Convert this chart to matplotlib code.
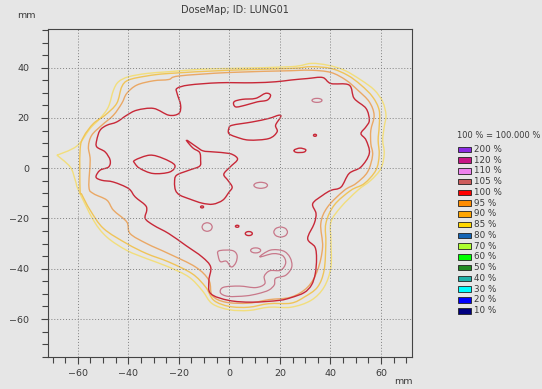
import matplotlib
matplotlib.use("Agg")
import matplotlib.pyplot as plt
import numpy as np
from matplotlib.patches import Rectangle, PathPatch
from matplotlib.path import Path

# isodose contours, (x, y) in mm
iso85 = [(-68.3, 5.2), (-60.4, 8.8), (-55.1, 15.8), (-51.2, 19.8), (-47.9, 24.4), (-45.9, 31.0),
         (-43.9, 34.4), (-39.9, 36.4), (-32.7, 37.7), (-24.0, 38.4), (-10.8, 39.4), (0.0, 39.7),
         (24.4, 40.4), (32.3, 41.7), (38.9, 41.0), (45.5, 39.0), (52.1, 35.1), (57.4, 31.1),
         (60.7, 26.4), (62.0, 21.1), (61.3, 16.5), (60.7, 11.2), (61.3, 5.9), (60.0, -0.1),
         (56.0, -4.8), (50.8, -8.8), (44.2, -15.4), (40.2, -21.4), (40.2, -28.7), (40.2, -39.3),
         (37.5, -47.3), (32.3, -52.6), (24.4, -55.3), (15.6, -55.3), (7.7, -56.6), (0.0, -56.3),
         (-6.8, -53.9), (-10.8, -48.6), (-16.0, -43.3), (-24.0, -39.3), (-32.7, -36.0),
         (-40.6, -32.7), (-48.5, -27.4), (-53.8, -20.7), (-59.7, -8.8), (-61.0, -4.8),
         (-63.0, 0.5)]

iso90 = [(-59.1, -8.8), (-59.1, 7.2), (-57.7, 12.5), (-53.8, 17.8), (-49.2, 21.1), (-44.6, 25.8),
         (-42.6, 32.4), (-39.9, 35.1), (-32.7, 36.7), (-24.0, 37.7), (0.0, 39.0), (24.4, 39.7),
         (32.3, 40.4), (40.2, 39.7), (46.8, 37.0), (52.1, 33.1), (56.7, 28.4), (59.3, 23.1),
         (59.3, 16.5), (58.9, 11.2), (59.3, 5.2), (58.0, -0.8), (53.4, -6.1), (48.1, -8.8),
         (41.5, -14.7), (38.2, -22.0), (38.2, -30.0), (37.5, -40.6), (34.9, -47.3), (29.6, -51.3),
         (24.4, -53.7), (15.6, -53.9), (7.7, -55.3), (0.0, -55.0), (-6.1, -52.6), (-9.4, -47.3),
         (-14.7, -42.0), (-24.0, -37.3), (-32.7, -34.0), (-40.6, -30.0), (-49.8, -24.0),
         (-55.1, -16.7), (-58.4, -10.5)]

iso95 = [(-55.6, -7.5), (-55.1, 3.2), (-55.8, 8.5), (-54.5, 13.1), (-50.5, 17.1), (-45.9, 21.1),
         (-42.6, 25.8), (-40.6, 29.8), (-36.6, 33.1), (-30.0, 34.8), (-24.0, 35.3), (-20.0, 36.7),
         (0.0, 38.1), (24.4, 38.8), (32.3, 39.0), (40.2, 38.1), (46.1, 35.1), (50.8, 31.1),
         (55.4, 26.4), (57.3, 21.1), (56.0, 15.1), (56.0, 9.8), (56.7, 5.2), (54.7, -1.5),
         (50.1, -6.1), (45.5, -8.8), (38.9, -15.4), (36.2, -22.0), (36.9, -31.4), (34.9, -40.6),
         (31.0, -47.3), (24.4, -51.3), (15.6, -52.3), (7.7, -53.7), (-1.5, -53.3), (-6.8, -50.6),
         (-8.1, -44.6), (-13.4, -39.3), (-24.0, -34.0), (-32.7, -30.0), (-39.3, -26.0),
         (-40.6, -21.4), (-45.9, -16.7), (-48.5, -12.7), (-53.8, -10.1)]

iso100_main = [(-24.0, 21.1), (-30.0, 23.8), (-36.6, 23.1), (-40.6, 21.1), (-44.6, 18.4),
               (-48.5, 17.1), (-51.2, 15.1), (-52.5, 11.2), (-52.5, 8.5), (-49.2, 6.5),
               (-47.2, 3.2), (-47.8, 0.5), (-51.2, -0.8), (-52.8, -3.5), (-50.5, -4.8),
               (-45.9, -5.5), (-39.9, -8.1), (-37.3, -11.4), (-33.3, -14.7), (-32.7, -16.7),
               (-33.3, -20.0), (-30.0, -22.7), (-24.0, -26.0), (-17.3, -30.7), (-10.8, -35.3),
               (-7.4, -39.3), (-8.1, -44.6), (-7.4, -49.9), (-0.2, -52.6), (9.0, -53.3),
               (19.6, -52.6), (24.4, -51.5), (29.6, -49.5), (32.5, -46.5), (34.0, -42.0),
               (34.5, -36.0), (33.9, -31.4), (31.0, -28.0), (33.6, -22.0), (34.3, -18.0),
               (33.0, -14.1), (36.9, -10.8), (40.2, -8.8), (44.2, -7.5), (47.4, -2.1),
               (52.1, 0.5), (55.4, 5.9), (54.1, 11.2), (52.1, 13.8), (54.1, 16.5), (55.4, 19.1),
               (54.1, 23.8), (49.4, 27.8), (47.4, 33.1), (40.2, 33.7), (36.9, 36.1), (31.0, 35.7),
               (24.4, 35.1), (18.3, 34.4), (9.0, 34.0), (-4.2, 34.0), (-16.0, 33.1),
               (-20.7, 31.8), (-20.7, 29.8), (-19.3, 25.1), (-20.0, 21.8)]

iso100_left = [(-37.4, 3.2), (-31.5, 5.2), (-26.2, 3.9), (-21.6, 1.2), (-23.6, -1.5),
               (-30.2, -2.1), (-35.4, -0.1), (-37.4, 1.9)]

iso100_centre = [(-17.0, 11.2), (-13.0, 8.5), (-10.4, 6.9), (-6.5, 6.5), (-0.2, 5.9), (2.5, 4.7),
                 (3.1, 3.2), (0.2, 0.4), (-2.2, -2.4), (-0.6, -4.8), (1.1, -7.5), (-0.2, -9.6),
                 (-2.6, -12.7), (-6.5, -14.3), (-10.8, -13.9), (-15.6, -12.3), (-19.6, -10.7),
                 (-21.3, -8.8), (-21.7, -5.6), (-20.9, -2.8), (-16.0, -0.8), (-11.8, 0.8),
                 (-11.4, 3.2), (-11.8, 6.3), (-14.5, 8.1)]

iso100_upper = [(-0.2, 15.8), (1.1, 17.1), (9.0, 18.4), (15.6, 19.8), (19.6, 21.1), (20.3, 20.4),
                (18.3, 17.1), (18.9, 14.5), (15.6, 11.8), (7.7, 11.2), (2.5, 12.5), (-0.2, 13.8)]

iso100_top = [(1.8, 26.4), (5.1, 27.4), (10.4, 27.8), (14.3, 29.8), (16.3, 29.1), (15.0, 27.1),
              (11.0, 26.4), (6.4, 25.1), (2.5, 24.4)]

iso100_right = [(25.6, 7.2), (27.9, 8.0), (30.2, 7.4), (29.5, 6.4), (26.5, 6.3)]

# (centre x, centre y, half width, half height) of the small closed loops
iso105_loops_x = [34.7, 12.4, -8.8, 10.4, 20.3]
iso105_loops_y = [27.0, -6.8, -23.4, -32.7, -25.4]
iso105_loops_w = [2.0, 2.7, 2.0, 2.0, 2.7]
iso105_loops_h = [0.8, 1.2, 1.7, 1.0, 2.0]

iso100_dots_x = [33.9, -10.8, 3.1, 7.7]
iso100_dots_y = [13.1, -15.4, -23.1, -26.0]
iso100_dots_w = [0.6, 0.6, 0.7, 1.4]
iso100_dots_h = [0.4, 0.4, 0.4, 0.8]

iso105_blob = [(-4.2, -32.9), (1.0, -32.7), (3.0, -34.5), (2.6, -37.5), (0.8, -39.3),
               (-1.2, -37.0), (-3.5, -37.2), (-4.4, -35.0)]

iso105_hook = [(12.0, -35.3), (17.3, -34.0), (21.1, -34.8), (22.3, -37.7), (20.3, -40.6),
               (16.0, -40.8), (13.8, -43.0), (14.0, -46.0), (10.4, -47.5), (4.0, -46.9),
               (-2.4, -47.4), (-3.5, -49.6), (-0.4, -51.0), (6.5, -50.8), (11.4, -49.9),
               (15.6, -48.5), (17.8, -46.4), (18.3, -43.8), (22.3, -42.6), (24.7, -39.3),
               (24.0, -35.5), (21.3, -32.9), (16.2, -32.6)]

# legend levels
legend_labels = ["200 %", "120 %", "110 %", "105 %", "100 %", "95 %", "90 %", "85 %",
                 "80 %", "70 %", "60 %", "50 %", "40 %", "30 %", "20 %", "10 %"]
legend_colors = ["#8a2be2", "#c71585", "#ee82ee", "#cd5c5c", "#ff0000", "#ff8c00", "#ffa500",
                 "#ffd700", "#1464b4", "#adff2f", "#00ff00", "#228b22", "#20b2aa", "#00ffff",
                 "#0000ff", "#000080"]

bg = "#e6e6e6"
txt = "#3a3a3a"
plt.rcParams["font.family"] = "DejaVu Sans"

fig = plt.figure(figsize=(5.42, 3.89), dpi=100, facecolor=bg)
ax = fig.add_axes([47.5 / 542, 1 - 356.7 / 389, (412 - 47.5) / 542, (356.7 - 29) / 389])
ax.set_facecolor(bg)


def draw(loop, color, lw=1.0, corners=()):
    # closed contour through the vertices, drawn as cubic Bezier segments;
    # vertices listed in corners keep a sharp point
    p = np.asarray(loop, dtype=float)
    n = len(p)
    tang = [np.zeros(2) if i in corners else (p[(i + 1) % n] - p[i - 1]) / 6.0
            for i in range(n)]
    verts = [p[0]]
    codes = [Path.MOVETO]
    for i in range(n):
        j = (i + 1) % n
        verts += [p[i] + tang[i], p[j] - tang[j], p[j]]
        codes += [Path.CURVE4] * 3
    ax.add_patch(PathPatch(Path(verts, codes), fill=False, edgecolor=color, lw=lw))


def ellipse(cx, cy, w, h, n=8):
    t = np.linspace(0, 2 * np.pi, n, endpoint=False)
    return list(zip(cx + w * np.cos(t), cy + h * np.sin(t)))


draw(iso85, "#f2de7c", corners=(0,))
draw(iso90, "#f0c458")
draw(iso95, "#eaa865")
for c in [iso100_main, iso100_left, iso100_centre, iso100_upper, iso100_top, iso100_right]:
    draw(c, "#c82838")
for cx, cy, w, h in zip(iso100_dots_x, iso100_dots_y, iso100_dots_w, iso100_dots_h):
    draw(ellipse(cx, cy, w, h), "#c82838")
for cx, cy, w, h in zip(iso105_loops_x, iso105_loops_y, iso105_loops_w, iso105_loops_h):
    draw(ellipse(cx, cy, w, h), "#c8788a", 0.9)
draw(iso105_blob, "#c8788a", 0.9)
draw(iso105_hook, "#c8788a", 0.9)

ax.set_xlim(-72, 72.3)
ax.set_ylim(-75, 55.4)
ax.set_xticks(range(-60, 61, 20))
ax.set_yticks(range(-60, 41, 20))
ax.set_xticks(range(-70, 71, 5), minor=True)
ax.set_yticks(range(-75, 56, 5), minor=True)
ax.grid(True, which="major", color="#808080", lw=0.7, linestyle=(0, (1, 2)))
ax.tick_params(which="major", length=5, width=0.8, color="#444444", labelsize=6.8,
               labelcolor=txt)
ax.tick_params(axis="x", which="major", pad=4)
ax.tick_params(axis="y", which="major", pad=8)
ax.tick_params(which="minor", length=4, width=0.8, color="#444444")
for s in ax.spines.values():
    s.set_color("#444444")
    s.set_linewidth(0.8)

fig.text(235 / 542, 1 - 10 / 389, "DoseMap; ID: LUNG01", ha="center", va="center",
         fontsize=7, color=txt)
fig.text(26 / 542, 1 - 16 / 389, "mm", ha="center", va="center", fontsize=6.8, color=txt)
fig.text(403 / 542, 1 - 381 / 389, "mm", ha="center", va="center", fontsize=6.8, color=txt)

fig.text(457 / 542, 1 - 136 / 389, "100 % = 100.000 %", ha="left", va="center",
         fontsize=6, color=txt)
for i, (lab, col) in enumerate(zip(legend_labels, legend_colors)):
    yc = 149.3 + i * 10.76
    fig.patches.append(Rectangle((458 / 542, 1 - (yc + 2.8) / 389), 13 / 542, 5.6 / 389,
                                 transform=fig.transFigure, facecolor=col,
                                 edgecolor="#222222", lw=0.6))
    fig.text(474 / 542, 1 - yc / 389, lab, ha="left", va="center", fontsize=6.3, color=txt)

fig.savefig("out.png", dpi=100, facecolor=bg)
